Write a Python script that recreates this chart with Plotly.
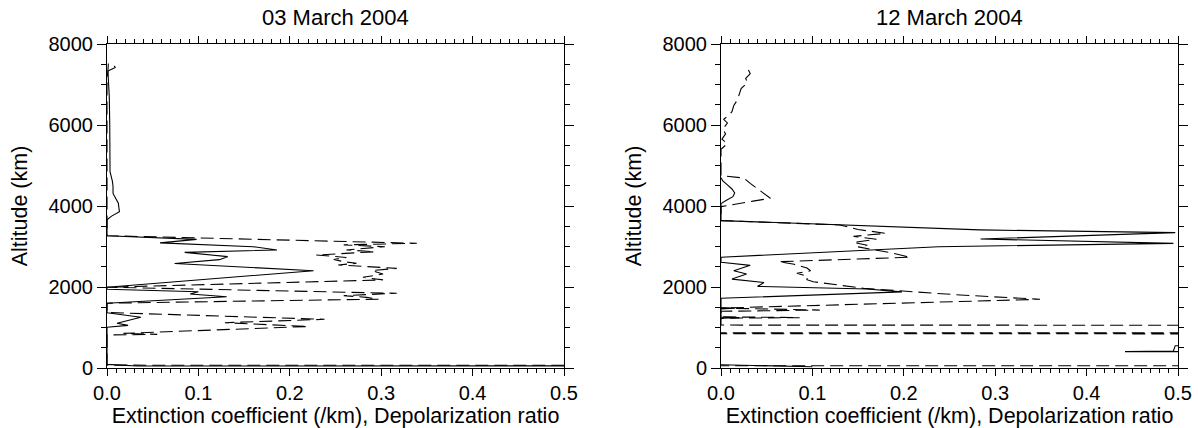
import plotly.graph_objects as go

# ---------------- data ----------------
# 03 March 2004 : extinction coefficient (solid) and depolarization ratio (dashed)
mar03_ext_alt = [7460, 7420, 7330, 7000, 6700, 6000, 5400, 4850, 4600, 4480, 4310, 4070, 3960, 3860,
                 3750, 3660, 3267, 3177, 3090, 2995, 2914, 2856, 2749, 2675, 2580, 2403, 1995,
                 1943, 1884, 1827, 1761, 1597, 1366, 1251, 1103, 1053, 1005, 90, 50, 58]
mar03_ext_val = [0.008, 0.009, 0.001, 0.002, 0.0025, 0.003, 0.003, 0.0033, 0.006, 0.0066, 0.0066,
                 0.0124, 0.013, 0.0136, 0.005, 0.0, 0.0, 0.098, 0.058, 0.160, 0.186, 0.085, 0.132,
                 0.123, 0.074, 0.226, 0.0, 0.0, 0.100, 0.091, 0.131, 0.0, 0.0, 0.037, 0.011, 0.023,
                 0.0, 0.0, 0.033, 2.0]

mar03_dep_alt = [7520, 7330, 7000, 3267, 3080, 3040, 2995, 2915, 2870, 2790, 2730, 2680, 2625, 2585,
                 2545, 2460, 2405, 2320, 2240, 2175, 1995, 1845, 1786, 1745, 1700, 1600, 1370,
                 1202, 1119, 1025, 855, 830, 815, 70, 62]
mar03_dep_val = [0.0015, 0.001, 0.0, 0.0, 0.339, 0.259, 0.304, 0.262, 0.293, 0.229, 0.262, 0.248,
                 0.259, 0.273, 0.253, 0.317, 0.290, 0.302, 0.280, 0.302, 0.0, 0.317, 0.259, 0.284,
                 0.297, 0.0, 0.0, 0.238, 0.129, 0.220, 0.018, 0.055, 0.0, 0.0, 2.0]

# 12 March 2004
mar12_ext_alt = [4700, 4620, 4520, 4420, 4320, 4230, 4140, 4060, 3640, 3535, 3410, 3342, 3185, 3078,
                 2995, 2735, 2610, 2535, 2400, 2320, 2195, 2110, 2015, 1950, 1880, 1721, 1490,
                 1475, 1460, 1260, 1245, 1230, 1200, None, 565, 551, 420, 404, 398, None, 80, 30]
mar12_ext_val = [0.0, 0.002, 0.007, 0.012, 0.015, 0.013, 0.006, 0.0, 0.0, 0.138, 0.283, 0.497, 0.284,
                 0.495, 0.238, 0.0, 0.0, 0.032, 0.014, 0.028, 0.012, 0.047, 0.040, 0.160, 0.198,
                 0.0, 0.0, 0.015, 0.0, 0.0, 0.020, 0.0, 0.0, None, 2.0, 0.497, 0.495, 0.442, 2.0,
                 None, 0.0, 0.1]

mar12_dep_alt = [7360, 7270, 7150, 7050, 6900, 6780, 6620, 6480, 6330, 6230, 6140, 6050, 5900, 5780,
                 5650, 5540, 5450, 5400, 4750, 4690, 4560, 4460, 4360, 4280, 4190, 4120, 4067,
                 3985, 3640, 3531, 3420, 3325, 3250, 3180, 3100, 3030, 2990, 2850, 2735, 2625,
                 2560, 2470, 2400, 2340, 2260, 2180, 2130, 1967, 1802, 1696, 1480, 1430, 1400,
                 1265, 1245, 1230, 1060, 1044, 876, 870, 845, 840, 62, 55]
mar12_dep_val = [0.030, 0.032, 0.027, 0.029, 0.022, 0.020, 0.018, 0.014, 0.012, 0.008, 0.003, 0.007,
                 0.002, 0.005, 0.001, 0.007, 0.002, 0.0, 0.0, 0.025, 0.032, 0.038, 0.045, 0.049,
                 0.054, 0.035, 0.021, 0.0, 0.0, 0.130, 0.150, 0.180, 0.145, 0.170, 0.145, 0.160,
                 0.150, 0.185, 0.207, 0.063, 0.080, 0.094, 0.098, 0.083, 0.095, 0.094, 0.101,
                 0.156, 0.262, 0.349, 0.0, 0.108, 0.0, 0.0, 0.086, 0.0, 0.0, 2.0, 2.0, 0.0, 0.0,
                 2.0, 2.0, 0.0]

titles = ["03 March 2004", "12 March 2004"]
x_title = "Extinction coefficient (/km), Depolarization ratio"
y_title = "Altitude (km)"
x_ticks = [0.0, 0.1, 0.2, 0.3, 0.4, 0.5]
y_ticks = [0, 2000, 4000, 6000, 8000]

# ---------------- figure ----------------
FONT = "Liberation Sans, Arial, Helvetica, sans-serif"
W, H = 1198, 428
dash = "13px,6px"

fig = go.Figure()
panels = [
    (mar03_ext_val, mar03_ext_alt, mar03_dep_val, mar03_dep_alt, "x", "y"),
    (mar12_ext_val, mar12_ext_alt, mar12_dep_val, mar12_dep_alt, "x2", "y2"),
]
for ev, ea, dv, da, xa, ya in panels:
    fig.add_trace(go.Scatter(x=ev, y=ea, mode="lines", xaxis=xa, yaxis=ya, showlegend=False,
                             connectgaps=False, line=dict(color="black", width=1.1)))
    fig.add_trace(go.Scatter(x=dv, y=da, mode="lines", xaxis=xa, yaxis=ya, showlegend=False,
                             line=dict(color="black", width=1.1, dash=dash)))

xdoms = [[107 / W, 564 / W], [721 / W, 1178 / W]]
ydom = [(H - 368) / H, (H - 44) / H]

def xax(dom, anchor):
    return dict(domain=dom, anchor=anchor, range=[0, 0.5], tickvals=x_ticks, automargin=False,
                ticktext=[f"{v:.1f}" for v in x_ticks], ticks="outside", ticklen=7, tickwidth=1,
                tickcolor="black", showline=True, linecolor="black", linewidth=1, mirror="ticks",
                showgrid=False, zeroline=False, tickfont=dict(family=FONT, size=20, color="black"),
                minor=dict(dtick=0.01, tick0=0, ticks="outside", ticklen=4, tickcolor="black",
                           tickwidth=1, showgrid=False),
                title=dict(text=x_title, standoff=2, font=dict(family=FONT, size=21.5, color="black")))

def yax(anchor):
    return dict(domain=ydom, anchor=anchor, range=[0, 8000], tickvals=y_ticks, automargin=False,
                ticks="outside", ticklen=9, tickwidth=1, tickcolor="black", showline=True,
                linecolor="black", linewidth=1, mirror="ticks", showgrid=False, zeroline=False,
                tickfont=dict(family=FONT, size=20, color="black"),
                minor=dict(dtick=500, tick0=0, ticks="outside", ticklen=5, tickcolor="black",
                           tickwidth=1, showgrid=False),
                title=dict(text=y_title, standoff=14, font=dict(family=FONT, size=21.5, color="black")))

fig.update_layout(
    width=W, height=H, margin=dict(l=0, r=0, t=0, b=0, autoexpand=False),
    paper_bgcolor="white", plot_bgcolor="white",
    xaxis=xax(xdoms[0], "y"), yaxis=yax("x"),
    xaxis2=xax(xdoms[1], "y2"), yaxis2=yax("x2"),
    font=dict(family=FONT, color="black"),
)

for dom, t in zip(xdoms, titles):
    fig.add_annotation(text=t, x=(dom[0] + dom[1]) / 2, y=(H - 18) / H, xref="paper", yref="paper",
                       showarrow=False, xanchor="center", yanchor="middle",
                       font=dict(family=FONT, size=22, color="black"))

fig.write_html("out.html", config={"displayModeBar": False},
               post_script="document.body.style.margin='0';document.body.style.overflow='hidden';")
